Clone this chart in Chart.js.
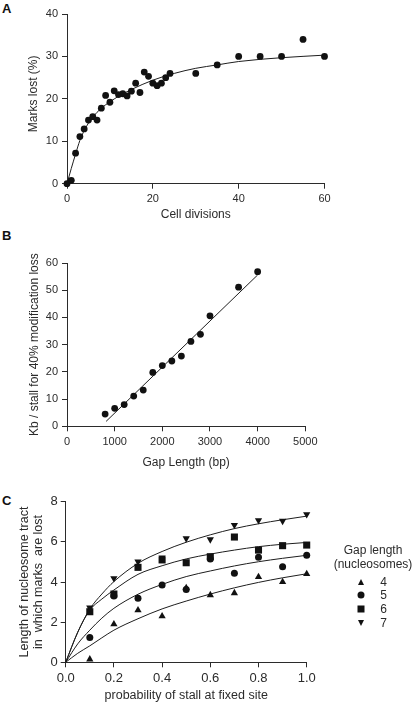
<!DOCTYPE html>
<html>
<head>
<meta charset="utf-8">
<script src="https://cdn.jsdelivr.net/npm/chart.js@4.4.1/dist/chart.umd.min.js"></script>
<style>
  body { margin: 0; background: #fff; }
  #fig { position: relative; width: 414px; height: 703px; overflow: hidden;
         font-family: 'Liberation Sans', Arial, sans-serif; color: #2b2b2b; }
  canvas { position: absolute; left: 0; }
  .letter { position: absolute; left: 2px; font-weight: bold; font-size: 13px; line-height: 13px; color: #111; }
  .lg { position: absolute; transform: translate(-50%, -50%); white-space: nowrap; font-size: 12px; line-height: 12px; }
  .mk { position: absolute; transform: translate(-50%, -50%); }
  .up   { width: 0; height: 0; border-left: 3.5px solid transparent; border-right: 3.5px solid transparent; border-bottom: 6px solid #111; }
  .down { width: 0; height: 0; border-left: 3.5px solid transparent; border-right: 3.5px solid transparent; border-top: 6px solid #111; }
  .dot  { width: 7px; height: 7px; border-radius: 50%; background: #111; }
  .sq   { width: 7px; height: 7px; background: #111; }
</style>
</head>
<body>
<div id="fig">
  <div class="letter" style="top:2px">A</div>
  <div class="letter" style="top:229px">B</div>
  <div class="letter" style="top:494px">C</div>

  <canvas id="chart-a" width="414" height="222" style="top:0"></canvas>
  <canvas id="chart-b" width="414" height="250" style="top:222px"></canvas>
  <canvas id="chart-c" width="414" height="231" style="top:472px"></canvas>

  <!-- legend panel C -->
  <div class="lg" style="left:373px; top:550px">Gap length</div>
  <div class="lg" style="left:373px; top:564px">(nucleosomes)</div>
  <div class="mk up"   style="left:360.5px; top:581.5px"></div>
  <div class="mk dot"  style="left:360.5px; top:595px"></div>
  <div class="mk sq"   style="left:360.5px; top:609px"></div>
  <div class="mk down" style="left:360.5px; top:622.7px"></div>
  <div class="lg" style="left:383.5px; top:581.5px">4</div>
  <div class="lg" style="left:383.5px; top:595px">5</div>
  <div class="lg" style="left:383.5px; top:609px">6</div>
  <div class="lg" style="left:383.5px; top:622.7px">7</div>
</div>

<script>
// ---- Panel A: marks lost vs cell divisions ----
const cellDivisions = [0, 1, 2, 3, 4, 5, 6, 7, 8, 9, 10, 11, 12, 13, 14, 15, 16, 17, 18, 19, 20, 21, 22, 23, 24, 30, 35, 40, 45, 50, 55, 60];
const marksLost     = [0, 0.8, 7.2, 11.1, 12.9, 15, 15.8, 15, 17.8, 20.8, 19.2, 21.9, 21, 21.2, 20.7, 21.8, 23.7, 21.5, 26.3, 25.3, 23.7, 23.1, 23.7, 25, 26, 26, 28, 30, 30, 30, 34, 30];
const fitADivisions = [0, 1, 2, 3, 4, 5, 6, 8, 10, 12, 15, 20, 25, 30, 35, 40, 50, 60];
const fitAMarks     = [0, 3.6, 7, 10.2, 12.5, 14.3, 15.7, 17.8, 19.3, 20.6, 22.2, 24.4, 26.0, 27.2, 28.0, 28.8, 29.7, 30.3];
const ticksAX = [0, 20, 40, 60];
const ticksAY = [0, 10, 20, 30, 40];

// ---- Panel B: kb per stall vs gap length ----
const gapBp      = [800, 1000, 1200, 1400, 1600, 1800, 2000, 2200, 2400, 2600, 2800, 3000, 3600, 4000];
const kbPerStall = [4.5, 6.6, 8.0, 11.1, 13.3, 19.8, 22.3, 24.0, 25.8, 31.2, 33.8, 40.6, 51.1, 56.8];
const fitBGap = [820, 4000];
const fitBKb  = [1.8, 55.6];
const ticksBX = [0, 1000, 2000, 3000, 4000, 5000];
const ticksBY = [0, 10, 20, 30, 40, 50, 60];

// ---- Panel C: tract length vs stall probability ----
const stallProb = [0.1, 0.2, 0.3, 0.4, 0.5, 0.6, 0.7, 0.8, 0.9, 1.0];
const tract4 = [0.15, 1.9, 2.6, 2.3, 3.7, 3.35, 3.45, 4.25, 4.0, 4.4];
const tract5 = [1.24, 3.3, 3.19, 3.85, 3.63, 5.15, 4.43, 5.23, 4.76, 5.33];
const tract6 = [2.52, 3.4, 4.73, 5.1, 4.96, 5.26, 6.24, 5.59, 5.81, 5.84];
const tract7 = [2.72, 4.18, 5.01, 5.21, 6.17, 6.12, 6.84, 7.07, 7.04, 7.37];
const fitProb = [0, 0.05, 0.1, 0.15, 0.2, 0.3, 0.4, 0.5, 0.6, 0.7, 0.8, 0.9, 1.0];
const fit4 = [0, 0.45, 0.82, 1.22, 1.6, 2.17, 2.66, 3.05, 3.4, 3.71, 3.98, 4.21, 4.41];
const fit5 = [0, 0.92, 1.6, 2.2, 2.69, 3.39, 3.88, 4.27, 4.55, 4.8, 5.01, 5.18, 5.33];
const fit6 = [0, 1.5, 2.6, 3.15, 3.6, 4.38, 4.81, 5.15, 5.39, 5.59, 5.76, 5.88, 5.97];
const fit7 = [0, 1.5, 2.65, 3.4, 4.02, 4.93, 5.52, 5.98, 6.35, 6.66, 6.9, 7.1, 7.28];
const ticksCX = [0, 0.2, 0.4, 0.6, 0.8, 1.0];
const ticksCY = [0, 2, 4, 6, 8];

// ---- Shared helpers ----
const FONT = "'Liberation Sans', Arial, sans-serif";
const INK  = '#2b2b2b';
const MARK = '#111';

const zip = (xs, ys) => xs.map((x, i) => ({ x, y: ys[i] }));

function axis(o) {
  return {
    type: 'linear',
    min: o.min, max: o.max,
    afterBuildTicks: s => { s.ticks = o.ticks.map(v => ({ value: v })); },
    afterFit: s => { if (o.width) s.width = o.width; if (o.height) s.height = o.height; },
    grid: { display: true, drawOnChartArea: false, drawTicks: true, tickLength: 5, tickWidth: 1, tickColor: INK },
    border: { display: true, color: INK, width: 1 },
    ticks: { color: INK, padding: o.tickPad ?? 4, font: { family: FONT, size: o.tickSize }, callback: o.fmt || (v => v) },
    title: { display: true, text: o.title, color: INK, padding: o.titlePad,
             font: { family: FONT, size: o.titleSize, lineHeight: o.titleLH || 1.2 } }
  };
}

function pointsDs(xs, ys, style, r, order, rot) {
  return {
    data: zip(xs, ys), showLine: false, clip: false, order,
    pointStyle: style, pointRadius: r, pointRotation: rot || 0,
    pointBackgroundColor: MARK, pointBorderColor: MARK, pointBorderWidth: 0
  };
}

function fitDs(xs, ys) {
  return {
    data: zip(xs, ys), showLine: true, pointRadius: 0, clip: false, order: 20,
    borderColor: '#1e1e1e', borderWidth: 1, cubicInterpolationMode: 'monotone', fill: false
  };
}

function makeChart(id, datasets, scales, padding) {
  return new Chart(document.getElementById(id), {
    type: 'scatter',
    data: { datasets },
    options: {
      responsive: false, animation: false, devicePixelRatio: 1,
      layout: { padding },
      plugins: { legend: { display: false }, tooltip: { enabled: false } },
      scales
    }
  });
}

// ---- Panel A ----
// leading spaces nudge the rotated title up a little, as in the original
makeChart('chart-a',
  [pointsDs(cellDivisions, marksLost, 'circle', 3.4, 1), fitDs(fitADivisions, fitAMarks)],
  {
    x: axis({ min: 0, max: 60, ticks: ticksAX, height: 38.3, tickSize: 11, title: 'Cell divisions', titleSize: 12, titlePad: { top: 0, bottom: 0 } }),
    y: axis({ min: 0, max: 40, ticks: ticksAY, width: 67, tickSize: 11, title: '   Marks lost (%)', titleSize: 12, titlePad: { top: 26.3, bottom: 0 } })
  },
  { left: 0, top: 14, right: 89.5, bottom: 0 });

// ---- Panel B ----
makeChart('chart-b',
  [pointsDs(gapBp, kbPerStall, 'circle', 3.4, 1), fitDs(fitBGap, fitBKb)],
  {
    x: axis({ min: 0, max: 5000, ticks: ticksBX, height: 45.7, tickSize: 11, title: 'Gap Length (bp)', titleSize: 12, titlePad: { top: 0, bottom: 1.8 } }),
    y: axis({ min: 0, max: 60, ticks: ticksBY, width: 67, tickSize: 11, title: 'Kb / stall for 40% modification loss', titleSize: 12, titlePad: { top: 27, bottom: 0 } })
  },
  { left: 0, top: 41, right: 108.7, bottom: 0 });

// ---- Panel C ----
makeChart('chart-c',
  [
    pointsDs(stallProb, tract7, 'triangle', 4.2, 1, 180),
    pointsDs(stallProb, tract6, 'rect', 5, 2),
    pointsDs(stallProb, tract5, 'circle', 3.5, 3),
    pointsDs(stallProb, tract4, 'triangle', 4.2, 4),
    fitDs(fitProb, fit4), fitDs(fitProb, fit5), fitDs(fitProb, fit6), fitDs(fitProb, fit7)
  ],
  {
    x: axis({ min: 0, max: 1, ticks: ticksCX, height: 40.7, tickSize: 13, tickPad: 3, fmt: v => v.toFixed(1),
              title: 'probability of stall at fixed site', titleSize: 12.5, titlePad: { top: 0, bottom: 0 } }),
    y: axis({ min: 0, max: 8, ticks: ticksCY, width: 65.7, tickSize: 13, tickPad: 3,
              title: ['Length of nucleosome tract', 'in  which marks  are lost'], titleSize: 12.5, titleLH: '14px',
              titlePad: { top: 18, bottom: 0 } })
  },
  { left: 0, top: 29.7, right: 107.3, bottom: 0 });
</script>
</body>
</html>
